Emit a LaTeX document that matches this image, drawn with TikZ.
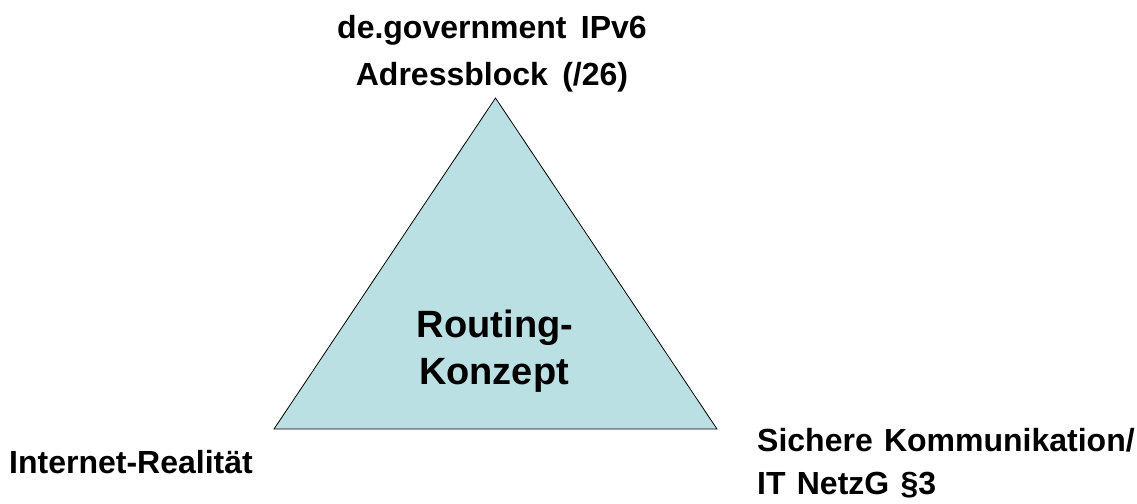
\documentclass[tikz,border=0pt]{standalone}
\usepackage{fontspec}
\setmainfont{Liberation Sans}
\definecolor{triFill}{RGB}{186,224,227}
\begin{document}
\begin{tikzpicture}[x=1pt,y=-1pt,
  corner/.style={font=\bfseries\fontsize{32}{38}\selectfont, inner sep=0pt, anchor=base},
  centre/.style={font=\bfseries\fontsize{38}{46}\selectfont, inner sep=0pt, anchor=base}]
\useasboundingbox (0,0) rectangle (1137,503);
% triangle
\coordinate (apex) at (495.5,98);
\coordinate (bl) at (274,429);
\coordinate (br) at (717,429);
\draw[fill=triFill, line width=0.8pt, line join=miter] (apex) -- (br) -- (bl) -- cycle;
% top label
\node[corner] (top1) at (492,38) {de.government\hspace{0.45em}IPv6};
\node[corner] (top2) at (492,85) {Adressblock\hspace{0.45em}(/26)};
% centre label
\node[centre] (c1) at (495,337) {Routing-};
\node[centre] (c2) at (494,384) {Konzept};
% bottom left
\node[corner, anchor=base west] (bl1) at (9,473) {Internet-Realität};
% bottom right
\node[corner, anchor=base west] (br1) at (757,451) {Sichere\hspace{0.35em}Kommunikation/};
\node[corner, anchor=base west] (br2) at (757,494) {IT\hspace{0.35em}NetzG\hspace{0.35em}§3};
\end{tikzpicture}
\end{document}
